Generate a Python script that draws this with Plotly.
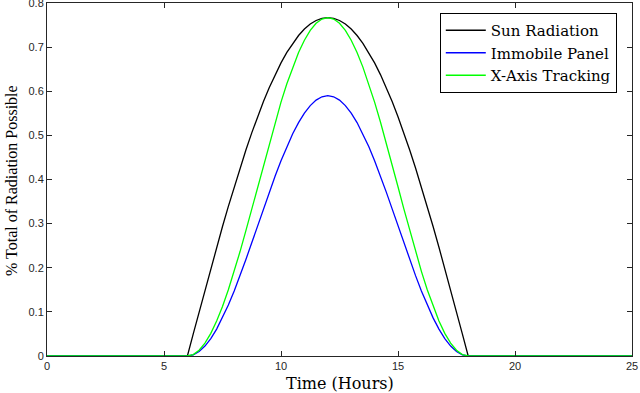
import plotly.graph_objects as go

time_hours = [0, 6.0, 6.25, 6.5, 6.75, 7.0, 7.25, 7.5, 7.75, 8.0, 8.25, 8.5, 8.75,
              9.0, 9.25, 9.5, 9.75, 10.0, 10.25, 10.5, 10.75, 11.0, 11.25, 11.5, 11.75,
              12.0, 12.25, 12.5, 12.75, 13.0, 13.25, 13.5, 13.75, 14.0, 14.25, 14.5, 14.75,
              15.0, 15.25, 15.5, 15.75, 16.0, 16.25, 16.5, 16.75, 17.0, 17.25, 17.5, 17.75,
              18.0, 25]

sun_rise = [0.0, 0.0502, 0.1001, 0.1496, 0.1985, 0.2465, 0.2935, 0.3392, 0.3835, 0.4261,
            0.4669, 0.5057, 0.5424, 0.5767, 0.6085, 0.6377, 0.6642, 0.6879, 0.7086,
            0.7263, 0.7409, 0.7523, 0.7604, 0.7654, 0.767]
immobile_rise = [0.0, 0.0025, 0.0101, 0.0225, 0.0395, 0.0610, 0.0864, 0.1154, 0.1475,
                 0.1821, 0.2187, 0.2565, 0.2950, 0.3335, 0.3714, 0.4079, 0.4425, 0.4746,
                 0.5036, 0.5290, 0.5505, 0.5675, 0.5799, 0.5875, 0.59]
tracking_rise = [0.0, 0.0033, 0.0131, 0.0292, 0.0514, 0.0792, 0.1123, 0.1500, 0.1918,
                 0.2367, 0.2842, 0.3334, 0.3835, 0.4336, 0.4828, 0.5303, 0.5753, 0.6170,
                 0.6547, 0.6878, 0.7156, 0.7378, 0.7539, 0.7637, 0.767]

# symmetric day: night zeros + rising half + mirrored falling half
sun_radiation = [0.0] + sun_rise + sun_rise[-2::-1] + [0.0]
immobile_panel = [0.0] + immobile_rise + immobile_rise[-2::-1] + [0.0]
x_axis_tracking = [0.0] + tracking_rise + tracking_rise[-2::-1] + [0.0]

x_ticks = [0, 5, 10, 15, 20, 25]
y_ticks = [0, 0.1, 0.2, 0.3, 0.4, 0.5, 0.6, 0.7, 0.8]
y_tick_labels = ["0", "0.1", "0.2", "0.3", "0.4", "0.5", "0.6", "0.7", "0.8"]

fig = go.Figure()
fig.add_trace(go.Scatter(x=time_hours, y=sun_radiation, mode="lines", name="Sun Radiation",
                         line=dict(color="#000000", width=1.3)))
fig.add_trace(go.Scatter(x=time_hours, y=immobile_panel, mode="lines", name="Immobile Panel",
                         line=dict(color="#0000ff", width=1.3)))
fig.add_trace(go.Scatter(x=time_hours, y=x_axis_tracking, mode="lines", name="X-Axis Tracking",
                         line=dict(color="#00ff00", width=1.3)))

axis_common = dict(showgrid=False, zeroline=False, showline=True, linecolor="#262626",
                   linewidth=1, mirror="ticks", ticks="inside", ticklen=5, tickcolor="#262626",
                   automargin=False, ticklabeloverflow="allow",
                   tickfont=dict(family="Liberation Sans, Arial", size=11, color="#262626"))

fig.update_xaxes(range=[0, 25], tickvals=x_ticks, **axis_common)
fig.update_yaxes(range=[0, 0.8], tickvals=y_ticks, ticktext=y_tick_labels, **axis_common)

fig.update_layout(
    width=640, height=393,
    margin=dict(l=47, r=8, t=3, b=37),
    paper_bgcolor="white", plot_bgcolor="white",
    showlegend=True,
    legend=dict(x=0.974, y=0.9717, xanchor="right", yanchor="top",
                bgcolor="white", bordercolor="#000000", borderwidth=1,
                font=dict(family="DejaVu Serif, Liberation Serif", size=15, color="#000"),
                tracegroupgap=0, itemwidth=40),
    annotations=[
        dict(text="Time (Hours)", xref="paper", yref="paper", x=0.5, y=-0.0765,
             xanchor="center", yanchor="middle", showarrow=False,
             font=dict(family="DejaVu Serif, Liberation Serif", size=16, color="#000")),
        dict(text="% Total of Radiation Possible", xref="paper", yref="paper",
             x=-0.0598, y=0.496, xanchor="center", yanchor="middle", textangle=-90,
             showarrow=False,
             font=dict(family="Liberation Serif, Times New Roman", size=16, color="#000")),
    ],
)

fig.write_html("out.html", config={"displayModeBar": False},
               post_script="document.body.style.margin='0px';document.body.style.overflow='hidden';")
